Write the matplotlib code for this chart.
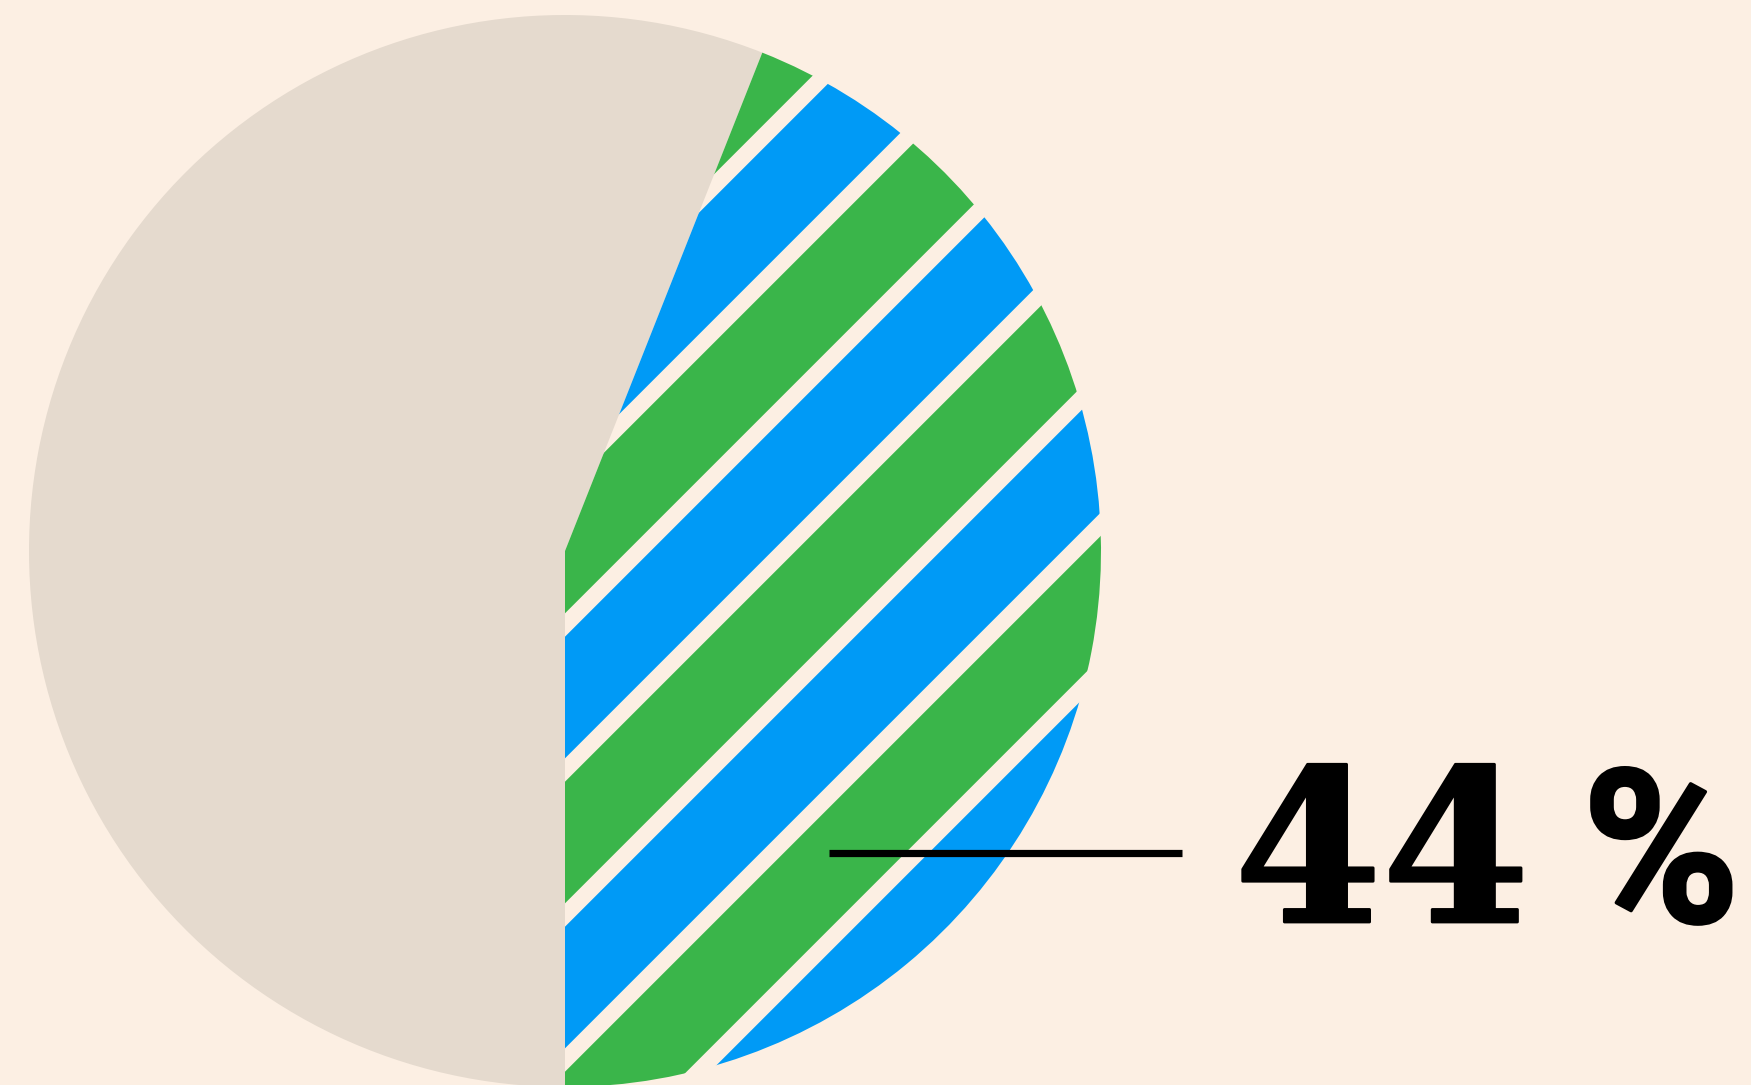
import matplotlib.pyplot as plt
import matplotlib.patheffects as pe
from matplotlib.patches import Polygon

# data
shares = [44, 56]          # striped slice, rest
label_value = "44"
label_unit = "%"

bg = '#FCEFE3'
beige = '#E5DACE'
green = '#3AB54A'
blue = '#009AF6'

W, H = 1751, 1085
cx, cy, r = 565, H - 551, 536

fig = plt.figure(figsize=(W / 100, H / 100), dpi=100, facecolor=bg)
ax = fig.add_axes([0, 0, 1, 1])
ax.set_facecolor(bg)

wedges, _ = ax.pie(shares, colors=['none', beige], startangle=-90, counterclock=True,
                   center=(cx, cy), radius=r, frame=True,
                   wedgeprops=dict(linewidth=0))

# diagonal stripes inside the 44% slice
period = 145.0
stripe_w = 121.6
c0 = 1178.3           # x + y_img where stripe 0 ends
for j in range(-4, 7):
    b = c0 + period * j
    a = b - stripe_w
    a2, b2 = a - H, b - H
    y0, y1 = -300, H + 300
    poly = Polygon([(a2 + y0, y0), (a2 + y1, y1), (b2 + y1, y1), (b2 + y0, y0)],
                   closed=True, facecolor=green if j % 2 == 0 else blue,
                   edgecolor='none', zorder=2)
    ax.add_patch(poly)
    poly.set_clip_path(wedges[0])

# pointer line and label
ax.plot([829, 1182], [H - 852.5, H - 852.5], color='black', lw=5.2,
        solid_capstyle='butt', zorder=3)
ax.text(1234, H - 922, label_value, family='DejaVu Serif', weight='bold',
        fontsize=153, ha='left', va='baseline', color='black',
        path_effects=[pe.withStroke(linewidth=2, foreground='black')])
ax.text(1582, H - 922, label_unit, family='Roboto', weight='bold',
        fontsize=154, ha='left', va='baseline', color='black',
        path_effects=[pe.withStroke(linewidth=2.5, foreground='black')])

ax.set_xlim(0, W)
ax.set_ylim(0, H)
ax.set_aspect('equal')
ax.axis('off')

fig.savefig('out.png', dpi=100, facecolor=bg)
